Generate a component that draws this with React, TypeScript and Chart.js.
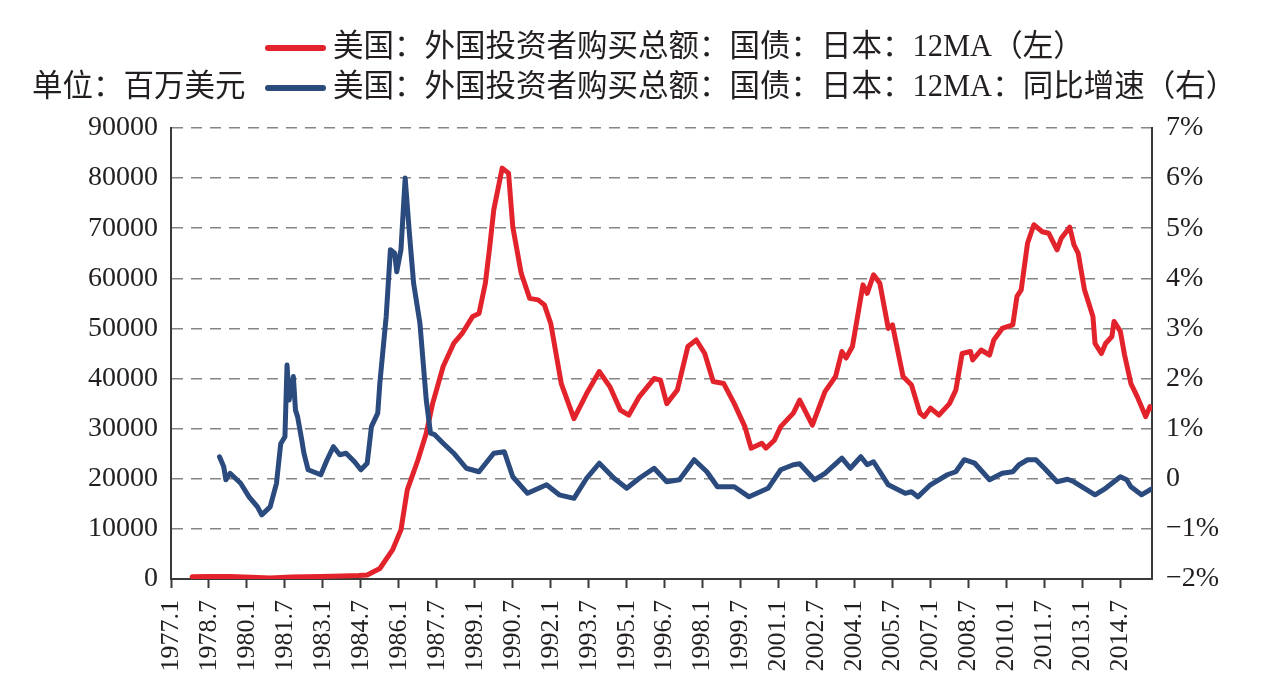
import React, { useEffect, useRef } from "react";
import { Chart, registerables } from "chart.js";

Chart.register(...registerables);

// Month axis: index 0 = 1977.1, last point 2015.10
const START_YEAR = 1977;
const X_MAX = 465;
const TICK_STEP = 18;

const UNIT_TEXT = "单位：百万美元";
const SERIES_NAMES = [
  "美国：外国投资者购买总额：国债：日本：12MA（左）",
  "美国：外国投资者购买总额：国债：日本：12MA：同比增速（右）",
];
const RED = "#e3232c";
const BLUE = "#2b4a7d";

// 12-month moving average of purchases, million USD (left axis)
const purchaseDates = [
  "1977.11", "1978.6", "1979.5", "1980.3", "1980.12", "1981.10", "1982.12", "1983.10", "1984.6", "1984.10",
  "1985.4", "1985.10", "1986.2", "1986.5", "1986.10", "1987.2", "1987.5", "1987.10", "1988.3", "1988.7",
  "1988.12", "1989.3", "1989.6", "1989.8", "1989.10", "1990.2", "1990.5", "1990.7", "1990.11", "1991.3",
  "1991.7", "1991.10", "1992.1", "1992.6", "1992.12", "1993.6", "1993.12", "1994.5", "1994.10", "1995.2",
  "1995.7", "1996.2", "1996.5", "1996.8", "1997.1", "1997.6", "1997.10", "1998.2", "1998.6", "1998.11",
  "1999.4", "1999.9", "1999.12", "2000.5", "2000.7", "2000.11", "2001.2", "2001.8", "2001.11", "2002.5",
  "2002.11", "2003.4", "2003.7", "2003.9", "2003.12", "2004.5", "2004.7", "2004.10", "2005.1", "2005.5",
  "2005.7", "2005.12", "2006.4", "2006.8", "2006.10", "2007.1", "2007.5", "2007.10", "2008.1", "2008.4",
  "2008.8", "2008.9", "2009.1", "2009.5", "2009.7", "2009.11", "2010.4", "2010.6", "2010.8", "2010.11",
  "2011.2", "2011.6", "2011.9", "2012.1", "2012.3", "2012.7", "2012.9", "2012.11", "2013.2", "2013.6",
  "2013.7", "2013.10", "2013.12", "2014.3", "2014.4", "2014.7", "2014.9", "2014.12", "2015.3", "2015.7",
  "2015.9", "2015.10",
];
const purchaseValues = [
  460, 520, 500, 350, 200, 400, 500, 600, 700, 800,
  2100, 5800, 9800, 17800, 23700, 29100, 35000, 42400, 47000, 49000,
  52400, 53000, 59000, 66000, 73700, 82000, 81000, 70300, 61000, 56000,
  55700, 54700, 51000, 39000, 32000, 37000, 41400, 38400, 33700, 32700,
  36400, 40000, 39700, 35000, 37700, 46400, 47700, 45000, 39400, 39000,
  35000, 30400, 26100, 27100, 26100, 27700, 30400, 33100, 35700, 30700,
  37400, 40400, 45400, 44100, 46400, 58700, 57000, 60700, 59000, 50000,
  50700, 40400, 38700, 33100, 32400, 34100, 32700, 35000, 37700, 45000,
  45400, 43700, 45700, 44700, 47700, 50000, 50700, 56400, 57700, 67000,
  70700, 69300, 69000, 65700, 68000, 70200, 66700, 65000, 57700, 52400,
  47000, 45000, 47000, 48400, 51400, 49400, 44700, 39000, 36400, 32400,
  34400, 34000,
];

// Year-on-year growth of the moving average, % (right axis)
const growthDates = [
  "1978.12", "1979.2", "1979.3", "1979.5", "1979.10", "1980.2", "1980.6", "1980.8", "1980.12", "1981.3",
  "1981.5", "1981.7", "1981.8", "1981.9", "1981.11", "1981.12", "1982.1", "1982.3", "1982.4", "1982.6",
  "1982.12", "1983.3", "1983.6", "1983.9", "1983.12", "1984.4", "1984.7", "1984.10", "1984.12", "1985.3",
  "1985.4", "1985.7", "1985.9", "1985.11", "1985.12", "1986.2", "1986.4", "1986.6", "1986.8", "1986.11",
  "1987.2", "1987.4", "1987.6", "1987.10", "1988.3", "1988.9", "1989.3", "1989.10", "1990.3", "1990.7",
  "1991.2", "1991.11", "1992.5", "1992.12", "1993.6", "1993.12", "1994.7", "1995.1", "1995.7", "1996.2",
  "1996.8", "1997.2", "1997.9", "1998.3", "1998.8", "1999.4", "1999.11", "2000.8", "2001.2", "2001.8",
  "2001.11", "2002.6", "2002.11", "2003.7", "2003.11", "2004.4", "2004.7", "2004.10", "2005.5", "2006.1",
  "2006.4", "2006.7", "2007.1", "2007.9", "2008.1", "2008.5", "2008.10", "2009.5", "2009.11", "2010.4",
  "2010.7", "2010.11", "2011.3", "2011.7", "2012.1", "2012.6", "2012.9", "2013.7", "2013.12", "2014.7",
  "2014.10", "2014.12", "2015.5", "2015.9", "2015.10",
];
const growthValues = [
  0.44, 0.24, -0.02, 0.11, -0.09, -0.36, -0.56, -0.72, -0.56, -0.09,
  0.7, 0.84, 2.27, 1.57, 2.04, 1.37, 1.24, 0.77, 0.51, 0.18,
  0.08, 0.38, 0.64, 0.48, 0.51, 0.34, 0.18, 0.31, 1.04, 1.31,
  1.91, 3.24, 4.57, 4.5, 4.13, 4.57, 6.0, 4.9, 3.9, 3.1,
  1.57, 0.91, 0.88, 0.71, 0.51, 0.21, 0.14, 0.51, 0.54, 0.04,
  -0.29, -0.12, -0.32, -0.39, 0.01, 0.31, 0.01, -0.19, 0.01, 0.21,
  -0.06, -0.02, 0.38, 0.14, -0.16, -0.16, -0.36, -0.19, 0.18, 0.28,
  0.3, -0.02, 0.11, 0.41, 0.21, 0.44, 0.28, 0.34, -0.12, -0.29,
  -0.26, -0.36, -0.12, 0.08, 0.14, 0.38, 0.31, -0.02, 0.11, 0.14,
  0.28, 0.38, 0.38, 0.21, -0.06, -0.01, -0.06, -0.32, -0.19, 0.04,
  -0.02, -0.16, -0.32, -0.22, -0.2,
];

const monthIndex = (d: string) => {
  const [y, m] = d.split(".").map(Number);
  return (y - START_YEAR) * 12 + (m - 1);
};
const monthLabel = (i: number) => `${START_YEAR + Math.floor(i / 12)}.${(i % 12) + 1}`;
const toPoints = (dates: string[], values: number[]) =>
  dates.map((d, i) => ({ x: monthIndex(d), y: values[i] }));

const FONT_FAMILY = '"Liberation Serif", "Noto Sans CJK SC", serif';
const TEXT_COLOR = "#231f20";
const AXIS_COLOR = "#3a3a3a";
const GRID_COLOR = "#858585";

const headerPlugin = {
  id: "headerLegend",
  afterDraw(chart: any) {
    const ctx = chart.ctx as CanvasRenderingContext2D;
    ctx.save();
    ctx.font = `30.5px ${FONT_FAMILY}`;
    ctx.fillStyle = TEXT_COLOR;
    ctx.textBaseline = "middle";
    ctx.textAlign = "left";
    ctx.fillText(UNIT_TEXT, 32, 88);
    const rows: [string, string, number][] = [
      [RED, SERIES_NAMES[0], 48],
      [BLUE, SERIES_NAMES[1], 88],
    ];
    rows.forEach(([color, name, y]) => {
      ctx.strokeStyle = color;
      ctx.lineWidth = 6;
      ctx.lineCap = "round";
      ctx.beginPath();
      ctx.moveTo(268, y);
      ctx.lineTo(323, y);
      ctx.stroke();
      ctx.fillStyle = TEXT_COLOR;
      ctx.fillText(name, 333, y);
    });
    ctx.restore();
  },
};

export default function App() {
  const canvasRef = useRef<HTMLCanvasElement | null>(null);

  useEffect(() => {
    if (!canvasRef.current) return;
    const chart = new Chart(canvasRef.current, {
      type: "line",
      data: {
        datasets: [
          {
            label: SERIES_NAMES[1],
            data: toPoints(growthDates, growthValues),
            yAxisID: "y1",
            borderColor: BLUE,
            borderWidth: 5,
            pointRadius: 0,
            tension: 0,
            borderJoinStyle: "round",
            borderCapStyle: "round",
          },
          {
            label: SERIES_NAMES[0],
            data: toPoints(purchaseDates, purchaseValues),
            yAxisID: "y",
            borderColor: RED,
            borderWidth: 5,
            pointRadius: 0,
            tension: 0,
            borderJoinStyle: "round",
            borderCapStyle: "round",
          },
        ],
      },
      options: {
        responsive: false,
        animation: false,
        layout: { padding: { top: 128, left: 0, right: 0, bottom: 0 } },
        plugins: { legend: { display: false }, tooltip: { enabled: false } },
        scales: {
          x: {
            type: "linear",
            min: 0,
            max: X_MAX,
            position: "bottom",
            afterFit: (s: any) => {
              s.height = 117;
            },
            grid: {
              display: true,
              drawOnChartArea: false,
              drawTicks: true,
              tickLength: 9,
              tickColor: AXIS_COLOR,
              tickWidth: 2,
            },
            border: { display: true, color: AXIS_COLOR, width: 2 },
            ticks: {
              stepSize: TICK_STEP,
              includeBounds: false,
              autoSkip: false,
              maxRotation: 90,
              minRotation: 90,
              padding: 12,
              color: TEXT_COLOR,
              font: { family: FONT_FAMILY, size: 26 },
              callback: (v: any) => monthLabel(Number(v)),
            },
          },
          y: {
            position: "left",
            min: 0,
            max: 90000,
            afterFit: (s: any) => {
              s.width = 171;
            },
            grid: {
              color: GRID_COLOR,
              lineWidth: 1.6,
              drawTicks: false,
            },
            border: { display: true, color: AXIS_COLOR, width: 2, dash: [11, 8] },
            ticks: {
              stepSize: 10000,
              padding: 13,
              color: TEXT_COLOR,
              font: { family: FONT_FAMILY, size: 28 },
              callback: (v: any) => String(v),
            },
          },
          y1: {
            position: "right",
            min: -2,
            max: 7,
            afterFit: (s: any) => {
              s.width = 117;
            },
            grid: { drawOnChartArea: false, drawTicks: false },
            border: { display: true, color: AXIS_COLOR, width: 2 },
            ticks: {
              stepSize: 1,
              padding: 14,
              color: TEXT_COLOR,
              font: { family: FONT_FAMILY, size: 28 },
              callback: (v: any) => {
                const n = Number(v);
                if (n === 0) return "0";
                return n < 0 ? `\u2212${Math.abs(n)}%` : `${n}%`;
              },
            },
          },
        },
      },
      plugins: [headerPlugin],
    });
    return () => chart.destroy();
  }, []);

  return (
    <div style={{ position: "absolute", left: 0, top: 0, width: 1269, height: 696, background: "#fff" }}>
      <canvas ref={canvasRef} width={1269} height={696} style={{ display: "block" }} />
    </div>
  );
}
